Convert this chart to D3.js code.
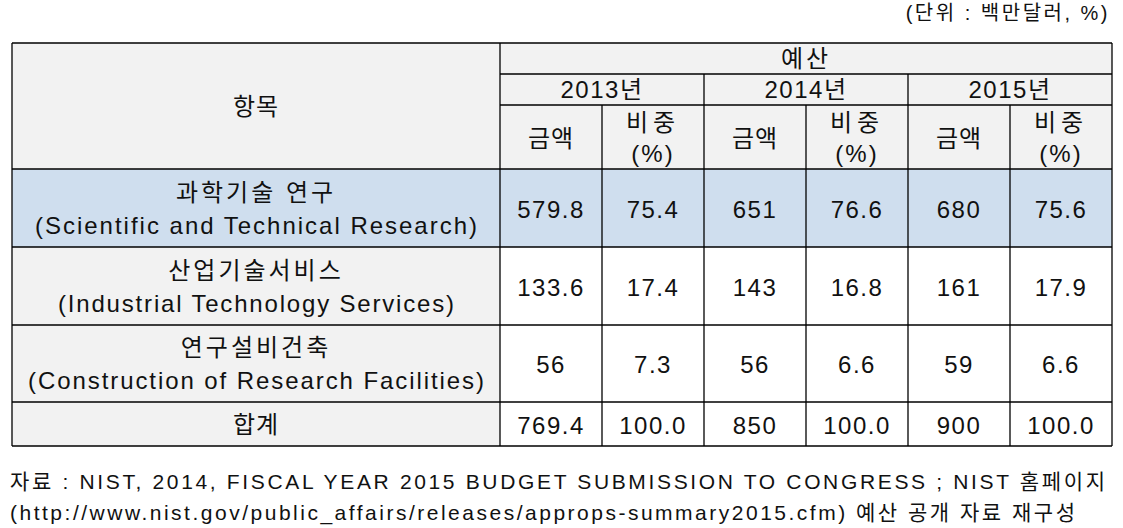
<!DOCTYPE html>
<html><head><meta charset="utf-8">
<script src="https://cdn.jsdelivr.net/npm/d3@7"></script>
<style>
html,body{margin:0;padding:0;background:#fff;}
svg text{font-family:"Liberation Sans","Noto Sans CJK KR",Arial,sans-serif;fill:#111;}
</style></head>
<body><svg id="chart" width="1123" height="528"></svg>
<script>
// ---- data ----
const categoriesKo = ["과학기술 연구", "산업기술서비스", "연구설비건축"];
const categoriesEn = ["(Scientific and Technical Research)", "(Industrial Technology Services)", "(Construction of Research Facilities)"];
const years = ["2013년", "2014년", "2015년"];
const amount2013 = [579.8, 133.6, 56];
const share2013 = [75.4, 17.4, 7.3];
const amount2014 = [651, 143, 56];
const share2014 = [76.6, 16.8, 6.6];
const amount2015 = [680, 161, 59];
const share2015 = [75.6, 17.9, 6.6];
const totalAmounts = [769.4, 850, 900];
const totalShares = [100.0, 100.0, 100.0];
const headerItem = "항목";
const headerBudget = "예산";
const subAmount = "금액";
const subShare = ["비중", "(%)"];
const totalLabel = "합계";
const unitText = "(단위 : 백만달러, %)";
const sourceLines = [
  "자료 : NIST, 2014, FISCAL YEAR 2015 BUDGET SUBMISSION TO CONGRESS ; NIST 홈페이지",
  "(http://www.nist.gov/public_affairs/releases/approps-summary2015.cfm) 예산 공개 자료 재구성"
];

// ---- layout ----
const svg = d3.select("#chart");
const left = 12, labelRight = 500, right = 1112;
const rowEdges = [43, 74, 105, 169, 247, 325, 402, 446];
const dataCols = d3.range(6);
const xCol = d3.scaleBand().domain(dataCols).range([labelRight, right]);
const xYear = d3.scaleBand().domain(years).range([labelRight, right]);
const enWidths = [442, 396, 456];

const gray = "#f2f2f2", blue = "#cfdeee", white = "#ffffff";
const fs = 24;

function cell(x0, x1, y0, y1, fill) {
  svg.append("rect").attr("x", x0).attr("y", y0).attr("width", x1 - x0).attr("height", y1 - y0)
    .attr("fill", fill);
}
function txt(x, y, s, size, ls, anchor) {
  return svg.append("text").attr("x", x).attr("y", y).attr("text-anchor", anchor || "middle")
    .attr("dominant-baseline", "central")
    .style("font-size", (size || fs) + "px").style("letter-spacing", (ls == null ? 1.5 : ls) + "px")
    .text(s);
}

// backgrounds
cell(left, right, rowEdges[0], rowEdges[3], gray);
const rowFillLabel = [blue, gray, gray, gray];
const rowFillData = [blue, white, white, white];
for (let r = 0; r < 4; r++) {
  cell(left, labelRight, rowEdges[3 + r], rowEdges[4 + r], rowFillLabel[r]);
  cell(labelRight, right, rowEdges[3 + r], rowEdges[4 + r], rowFillData[r]);
}

// header text
txt((left + labelRight) / 2, (rowEdges[0] + rowEdges[3]) / 2, headerItem, fs, 1);
txt((labelRight + right) / 2, (rowEdges[0] + rowEdges[1]) / 2, headerBudget, fs, 3);
years.forEach(y => txt(xYear(y) + xYear.bandwidth() / 2, (rowEdges[1] + rowEdges[2]) / 2, y, fs, 1.5));
dataCols.forEach(c => {
  const cx = xCol(c) + xCol.bandwidth() / 2;
  if (c % 2 === 0) txt(cx, (rowEdges[2] + rowEdges[3]) / 2 + 1, subAmount, fs, 1);
  else {
    txt(cx, rowEdges[2] + 17, subShare[0], fs, 5);
    txt(cx, rowEdges[2] + 48, subShare[1], fs, 2);
  }
});

// body rows
const amounts = [amount2013, amount2014, amount2015];
const shares = [share2013, share2014, share2015];
categoriesKo.forEach((k, i) => {
  const y0 = rowEdges[3 + i], y1 = rowEdges[4 + i];
  const cy = (y0 + y1) / 2;
  const lx = (left + labelRight) / 2;
  txt(lx, cy - 16, k, fs, 3);
  txt(lx - enWidths[i] / 2, cy + 17, categoriesEn[i], fs, 0, "start")
    .attr("textLength", enWidths[i]).attr("lengthAdjust", "spacing");
  years.forEach((y, j) => {
    txt(xCol(j * 2) + xCol.bandwidth() / 2, cy + 1, String(amounts[j][i]));
    txt(xCol(j * 2 + 1) + xCol.bandwidth() / 2, cy + 1, shares[j][i].toFixed(1));
  });
});
// total row
{
  const cy = (rowEdges[6] + rowEdges[7]) / 2;
  txt((left + labelRight) / 2, cy, totalLabel, fs, 1);
  years.forEach((y, j) => {
    txt(xCol(j * 2) + xCol.bandwidth() / 2, cy + 1, String(totalAmounts[j]));
    txt(xCol(j * 2 + 1) + xCol.bandwidth() / 2, cy + 1, totalShares[j].toFixed(1));
  });
}

// grid lines
const lines = svg.append("g").attr("stroke", "#000").attr("stroke-width", 1.3).attr("fill", "none");
rowEdges.forEach((y, i) => {
  const x0 = (i === 1 || i === 2) ? labelRight : left;
  lines.append("line").attr("x1", x0).attr("x2", right).attr("y1", y).attr("y2", y);
});
lines.append("line").attr("x1", left).attr("x2", left).attr("y1", rowEdges[0]).attr("y2", rowEdges[7]);
lines.append("line").attr("x1", labelRight).attr("x2", labelRight).attr("y1", rowEdges[0]).attr("y2", rowEdges[7]);
lines.append("line").attr("x1", right).attr("x2", right).attr("y1", rowEdges[0]).attr("y2", rowEdges[7]);
dataCols.slice(1).forEach(c => {
  const y0 = (c % 2 === 0) ? rowEdges[1] : rowEdges[2];
  lines.append("line").attr("x1", xCol(c)).attr("x2", xCol(c)).attr("y1", y0).attr("y2", rowEdges[7]);
});

// unit & source
svg.append("text").attr("x", 1110).attr("y", 13).attr("text-anchor", "end").attr("dominant-baseline", "central")
  .style("font-size", "20px").style("letter-spacing", "2.5px").text(unitText);
svg.append("text").attr("x", 10).attr("y", 481).attr("dominant-baseline", "central")
  .attr("textLength", 1095).attr("lengthAdjust", "spacing")
  .style("font-size", "21px").text(sourceLines[0]);
svg.append("text").attr("x", 10).attr("y", 512).attr("dominant-baseline", "central")
  .attr("textLength", 1065).attr("lengthAdjust", "spacing")
  .style("font-size", "21px").text(sourceLines[1]);
</script></body></html>
